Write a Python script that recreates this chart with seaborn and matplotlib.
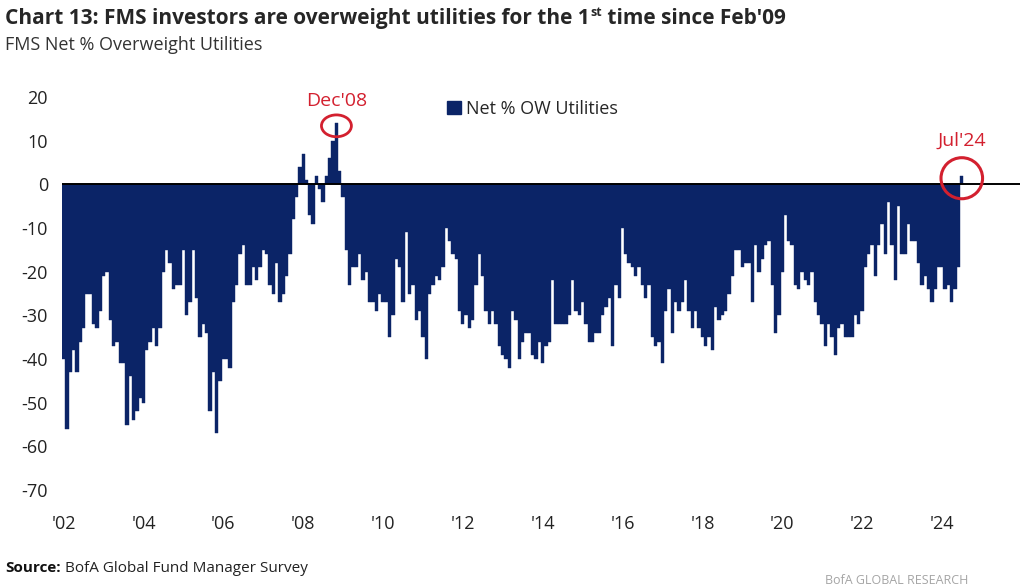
"""BofA FMS chart: net % of fund managers overweight utilities, monthly bars."""

import matplotlib

matplotlib.use("Agg")

import matplotlib.pyplot as plt
import numpy as np
import pandas as pd
import seaborn as sns
from matplotlib import font_manager as fm
from matplotlib.patches import Ellipse, Patch


def pick_font(*names):
    for name in names:
        try:
            fm.findfont(fm.FontProperties(family=name), fallback_to_default=False)
            return name
        except ValueError:
            pass
    return "DejaVu Sans"


# --- data, one row per year, Jan..Dec ---
net_ow_utilities = [
    -40, -56, -43, -38, -43, -36, -33, -25, -25, -32, -33, -29,  # 2002
    -21, -20, -31, -37, -36, -41, -41, -55, -44, -54, -52, -49,  # 2003
    -50, -38, -36, -33, -37, -33, -20, -15, -18, -24, -23, -23,  # 2004
    -15, -30, -27, -15, -26, -35, -32, -34, -52, -43, -57, -45,  # 2005
    -40, -40, -42, -27, -23, -16, -14, -23, -23, -19, -22, -19,  # 2006
    -15, -16, -23, -25, -18, -27, -25, -21, -16, -8, -3, 4,  # 2007
    7, 1, -7, -9, 2, -1, -4, 2, 6, 10, 14, 3,  # 2008
    -3, -15, -23, -19, -19, -16, -22, -20, -27, -27, -29, -25,  # 2009
    -27, -27, -35, -30, -17, -19, -27, -11, -25, -23, -31, -29,  # 2010
    -35, -40, -25, -23, -21, -22, -19, -10, -13, -16, -17, -29,  # 2011
    -32, -30, -33, -31, -23, -16, -21, -29, -32, -29, -32, -37,  # 2012
    -39, -40, -42, -29, -31, -40, -36, -34, -34, -39, -40, -36,  # 2013
    -41, -37, -36, -22, -32, -32, -32, -32, -30, -22, -29, -30,  # 2014
    -27, -32, -36, -36, -34, -34, -30, -28, -26, -37, -23, -26,  # 2015
    -10, -16, -18, -19, -21, -19, -23, -26, -23, -35, -37, -36,  # 2016
    -41, -29, -24, -34, -27, -29, -27, -22, -29, -33, -29, -33,  # 2017
    -35, -37, -35, -38, -28, -31, -30, -29, -25, -21, -15, -15,  # 2018
    -19, -18, -18, -27, -14, -20, -17, -14, -13, -23, -34, -30,  # 2019
    -20, -7, -13, -14, -23, -24, -20, -22, -23, -20, -27, -30,  # 2020
    -32, -37, -32, -35, -39, -33, -32, -35, -35, -35, -30, -32,  # 2021
    -29, -19, -16, -14, -21, -14, -9, -16, -4, -14, -22, -5,  # 2022
    -16, -16, -9, -13, -13, -18, -23, -21, -24, -27, -24, -19,  # 2023
    -19, -24, -23, -27, -24, -19, 2,  # 2024 (to Jul)
]
months = pd.date_range("2002-01-01", periods=len(net_ow_utilities), freq="MS")
tick_years = list(range(2002, 2025, 2))
y_ticks = [20, 10, 0, -10, -20, -30, -40, -50, -60, -70]
series_label = "Net % OW Utilities"
peak_label = "Dec'08"
last_label = "Jul'24"

NAVY = "#0b2467"
RED = "#d3202f"

df = pd.DataFrame({"month": months.strftime("%Y-%m"), "net_ow": net_ow_utilities})

sns.set_theme(style="white")
body_font = pick_font("Open Sans", "Noto Sans")
title_font = pick_font("Liberation Sans Narrow", "Open Sans")
plt.rcParams["font.family"] = [body_font, "DejaVu Sans"]
plt.rcParams["axes.unicode_minus"] = False

fig = plt.figure(figsize=(10.24, 5.88), dpi=100)
ax = fig.add_axes([62 / 1024, 1 - 490 / 588, 958 / 1024, 393 / 588])

sns.barplot(
    data=df, x="month", y="net_ow", color=NAVY, saturation=1, width=1.0,
    errorbar=None, edgecolor=NAVY, linewidth=0.3, ax=ax,
)
ax.axhline(0, color="black", lw=1.4, zorder=3)

n = len(df)
ax.set_xlim(-0.5, n - 0.5 + 17)
ax.set_ylim(-70, 20)
ax.set_yticks(y_ticks)
ax.set_yticklabels([str(v) for v in y_ticks])
ax.set_xticks([12 * (y - 2002) for y in tick_years])
ax.set_xticklabels([f"'{y % 100:02d}" for y in tick_years])
ax.tick_params(axis="both", length=0, labelsize=13, colors="#222222")
ax.tick_params(axis="y", pad=10)
ax.tick_params(axis="x", pad=18)
ax.set_xlabel("")
ax.set_ylabel("")
sns.despine(ax=ax, left=True, bottom=True)

ax.legend(
    handles=[Patch(facecolor=NAVY, edgecolor=NAVY)], labels=[series_label],
    loc="center left", bbox_to_anchor=(0.385, 0.97), frameon=False,
    handlelength=0.75, handleheight=0.75, handletextpad=0.3, fontsize=13,
)

# annotations: peak (Dec'08) and latest reading (Jul'24)
vals = np.asarray(net_ow_utilities)
peak_i = int(np.argmax(vals))
last_i = n - 1
ax.add_patch(Ellipse((peak_i, vals[peak_i] - 0.6), width=9, height=5.0,
                     fill=False, ec=RED, lw=2.0, zorder=4))
ax.text(peak_i, vals[peak_i] + 3.1, peak_label, color=RED, fontsize=14,
        ha="center", va="bottom")
ax.add_patch(Ellipse((last_i, vals[last_i] - 0.6), width=12.5, height=9.4,
                     fill=False, ec=RED, lw=2.2, zorder=4))
ax.text(last_i, vals[last_i] + 6.0, last_label, color=RED, fontsize=14,
        ha="center", va="bottom")

# titles
t1 = fig.text(5 / 1024, 1 - 29 / 588, "Chart 13: FMS investors are overweight utilities for the 1",
              fontsize=15, weight="bold", family=[title_font, "DejaVu Sans"], va="bottom")
t2 = ax.annotate("st", xy=(1, 0), xycoords=t1, xytext=(0.6, 7), textcoords="offset points",
                 fontsize=9, weight="bold", family=[title_font, "DejaVu Sans"], va="bottom",
                 annotation_clip=False)
ax.annotate(" time since Feb'09", xy=(1, 0), xycoords=(t2, t1), xytext=(0, 0),
            textcoords="offset points", fontsize=15, weight="bold",
            family=[title_font, "DejaVu Sans"], va="bottom", annotation_clip=False)
fig.text(5 / 1024, 1 - 45 / 588, "FMS Net % Overweight Utilities", fontsize=13,
         color="#333333", va="center")

s1 = fig.text(5 / 1024, 20 / 588, "Source:", fontsize=11, weight="bold",
              family=[title_font, "DejaVu Sans"], va="center", color="#111111")
ax.annotate(" BofA Global Fund Manager Survey", xy=(1, 0.5), xycoords=s1, va="center",
            fontsize=11, family=[title_font, "DejaVu Sans"], color="#222222",
            annotation_clip=False)
fig.text(825 / 1024, 1 / 588, "BofA GLOBAL RESEARCH", fontsize=9, color="#a5a5a5",
         va="bottom")

fig.savefig("out.png", dpi=100)
